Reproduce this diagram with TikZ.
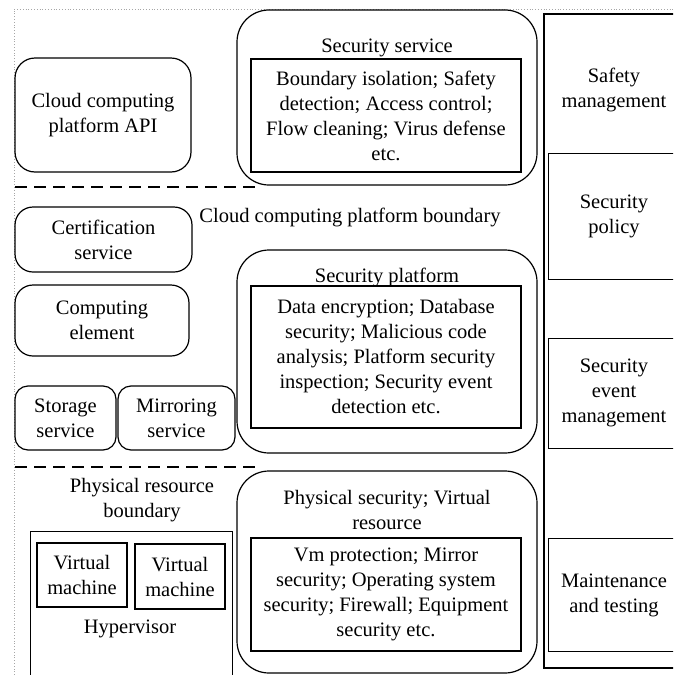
\documentclass[tikz,border=0pt]{standalone}
\usepackage{fontspec}
\setmainfont{Liberation Serif}
\begin{document}
\begin{tikzpicture}[x=1pt, y={(0pt,-1pt)},
  every node/.style={font=\fontsize{20.5}{25}\selectfont, align=center, inner sep=0pt},
  box/.style={draw, line width=1.2pt, minimum width=#1},
  rbox/.style={draw, line width=1.2pt, rounded corners=#1},
  bline/.style={line width=1.2pt, dash pattern=on 12pt off 7pt},
  frame/.style={draw=gray!70, line width=0.8pt, dotted}
]
\useasboundingbox (0,0) rectangle (673,675);
\clip (0,0) rectangle (673,675);

% outer dotted frame
\draw[frame] (14,675) -- (14,9) -- (673,9);

% left column
\node[rbox=20pt, minimum width=176pt, minimum height=114pt] (api) at (103,115) {Cloud computing\\platform API};
\node[rbox=18pt, minimum width=177pt, minimum height=65pt] (cert) at (103.5,239.5) {Certification\\service};
\node[rbox=18pt, minimum width=174pt, minimum height=71pt] (comp) at (102,320.5) {Computing\\element};
\node[rbox=13pt, minimum width=101pt, minimum height=64pt] (stor) at (65.5,418) {Storage\\service};
\node[rbox=13pt, minimum width=117pt, minimum height=64pt] (mirr) at (176.5,418) {Mirroring\\service};

% boundaries
\coordinate (b1a) at (15,187);
\coordinate (b1b) at (260,187);
\coordinate (b2a) at (15,467);
\coordinate (b2b) at (260,467);
\draw[bline] (b1a) -- (b1b);
\draw[bline] (b2a) -- (b2b);
\node (cloudb) at (350,217) {Cloud computing platform boundary};
\node (physb) at (142,500) {Physical resource\\boundary};

% hypervisor
\node[draw, line width=1.2pt, minimum width=202pt, minimum height=160pt, anchor=north west] (hyp) at (30,531) {};
\node[draw, line width=1.2pt, minimum width=90pt, minimum height=64pt] (vm1) at (82,575) {Virtual\\machine};
\node[draw, line width=1.2pt, minimum width=90pt, minimum height=65pt] (vm2) at (180,576.5) {Virtual\\machine};
\node (hyptext) at (130,629) {Hypervisor};

% security service
\node[rbox=32pt, minimum width=300pt, minimum height=175pt] (ss) at (387,97.5) {};
\node (sst) at (387,48) {Security service};
\node[draw, line width=1.2pt, minimum width=270pt, minimum height=113pt] (ssi) at (386,115.5)
  {Boundary isolation; Safety\\detection; Access control;\\Flow cleaning; Virus defense\\etc.};

% security platform
\node[rbox=32pt, minimum width=300pt, minimum height=203pt] (sp) at (387,351.5) {};
\node (spt) at (387,277) {Security platform};
\node[draw, line width=1.2pt, minimum width=270pt, minimum height=142pt] (spi) at (386,357)
  {Data encryption; Database\\security; Malicious code\\analysis; Platform security\\inspection; Security event\\detection etc.};

% physical security
\node[rbox=32pt, minimum width=300pt, minimum height=202pt] (ps) at (387,572) {};
\node (pst) at (387,509.5) {Physical security; Virtual\\resource};
\node[draw, line width=1.2pt, minimum width=270pt, minimum height=113pt] (psi) at (386,594.5)
  {Vm protection; Mirror\\security; Operating system\\security; Firewall; Equipment\\security etc.};

% management column
\draw[line width=1.2pt] (544,14) rectangle (700,668);
\node (safe) at (614,90) {Safety\\management};
\node[draw, line width=1.2pt, minimum width=152pt, minimum height=126pt, anchor=north west] (pol) at (548,153) {};
\node (poltext) at (614,216) {Security\\policy};
\node[draw, line width=1.2pt, minimum width=152pt, minimum height=110pt, anchor=north west] (evt) at (548,338) {};
\node (evttext) at (614,393) {Security\\event\\management};
\node[draw, line width=1.2pt, minimum width=152pt, minimum height=113pt, anchor=north west] (mnt) at (548,538) {};
\node (mnttext) at (614,595) {Maintenance\\and testing};
\end{tikzpicture}
\end{document}
